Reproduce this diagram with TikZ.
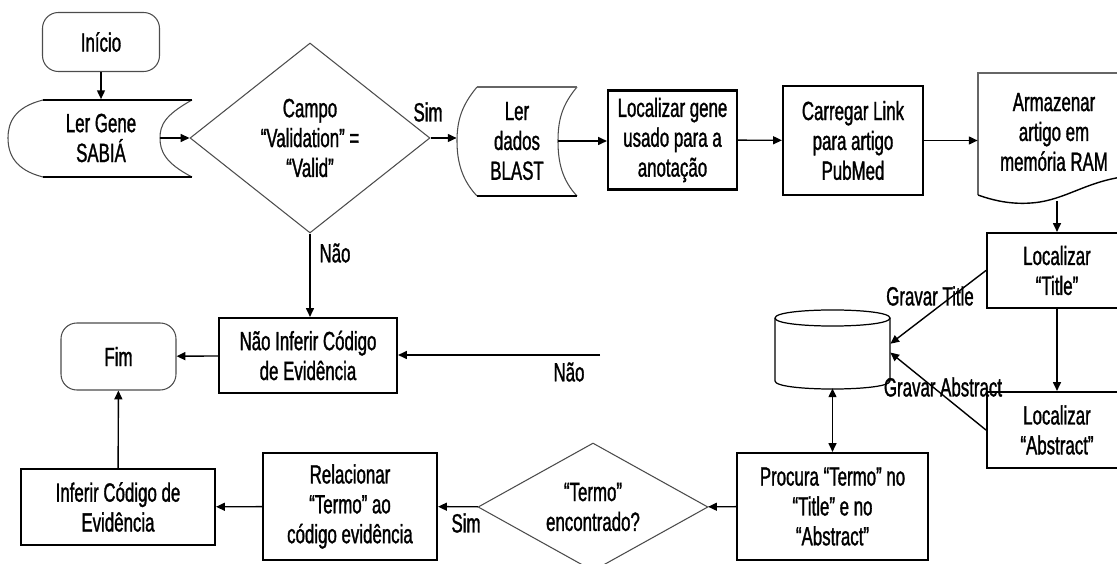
\documentclass[tikz,border=0pt]{standalone}
\usepackage{fontspec}
\setmainfont{Liberation Sans}[FakeStretch=0.64, FakeBold=1.2]
\usetikzlibrary{shapes.geometric,arrows.meta}
\tikzset{
  proc/.style={draw, line width=1.2pt, align=center, inner sep=1pt},
  decis/.style={draw=black!70, line width=0.6pt, diamond, align=center, inner sep=0pt},
  term/.style={draw=black!70, line width=0.6pt, rounded corners=9pt, align=center},
  shp/.style={align=center, inner sep=0pt},
  seta/.style={line width=0.8pt, -{Triangle[length=5pt,width=4.5pt]}},
  lbl/.style={inner sep=1pt}
}

\begin{document}
\begin{tikzpicture}[x=0.02cm, y=-0.02cm, font=\fontsize{15}{17}\selectfont]
\useasboundingbox (0,0) rectangle (1117,564);

\node[term, minimum width=2.34cm, minimum height=1.18cm] (inicio) at (101,42) {Início};

\draw[line width=0.6pt, draw=black!70] (192,100) .. controls (165,115) and (160,125) .. (160,138) .. controls (160,151) and (165,163) .. (192,177);
\draw[line width=0.6pt, draw=black!70] (43,177) .. controls (15,170) and (8,154) .. (8,138) .. controls (8,122) and (15,107) .. (43,100);
\draw[line width=1.2pt] (43,100) -- (192,100);
\draw[line width=1pt] (43,177) -- (192,177);
\node[shp, minimum width=3.68cm, minimum height=1.54cm] (lergene) at (101,138) {Ler Gene\\SABIÁ};
\coordinate (lergene-r) at (160,138);

\node[decis, aspect=1.26, minimum width=4.8cm, minimum height=3.8cm] (valid) at (310,138) {Campo\\“Validation” =\\“Valid”};

\draw[line width=0.6pt, draw=black!70] (577,87) .. controls (562,105) and (558,120) .. (558,141) .. controls (558,162) and (562,180) .. (577,196);
\draw[line width=0.6pt, draw=black!70] (477,196) .. controls (462,180) and (457,162) .. (457,141) .. controls (457,120) and (462,105) .. (477,87);
\draw[line width=1.2pt, draw=black!60] (477,87) -- (577,87);
\draw[line width=1pt] (477,196) -- (577,196);
\node[shp, minimum width=2.4cm, minimum height=2.18cm] (dados) at (517,141) {Ler\\dados\\BLAST};
\coordinate (dados-r) at (558,141);

\node[proc, minimum width=2.58cm, minimum height=1.98cm] (loc) at (672.5,140) {Localizar gene\\usado para a\\anotação};
\node[proc, minimum width=2.8cm, minimum height=2.18cm] (carr) at (853,140.5) {Carregar Link\\para artigo\\PubMed};

\draw[line width=1.2pt, draw=black!60] (978,195) -- (978,73) -- (1130,73);
\draw[line width=0.8pt] (978,195) .. controls (1000,203) and (1020,205) .. (1040,202) .. controls (1070,197) and (1090,180) .. (1130,176);
\node[shp, minimum width=3.04cm, minimum height=2.4cm] (arm) at (1054,132) {Armazenar\\artigo em\\memória RAM};
\coordinate (arm-b) at (1057,201);

\node[proc, minimum width=2.8cm, minimum height=1.5cm] (tit) at (1057,270.5) {Localizar\\“Title”};
\node[proc, minimum width=2.8cm, minimum height=1.52cm] (abs) at (1057,430) {Localizar\\“Abstract”};

\draw[line width=0.7pt] (775,318) -- (775,381) .. controls (775,391.7) and (890,391.7) .. (890,381) -- (890,318);
\draw[line width=0.7pt] (775,318) .. controls (775,307.3) and (890,307.3) .. (890,318) .. controls (890,328.7) and (775,328.7) .. (775,318);
\node[shp, minimum width=2.3cm, minimum height=1.56cm] (db) at (832.5,349) {};

\node[proc, minimum width=3.82cm, minimum height=2.14cm] (procura) at (832.5,506.5) {Procura “Termo” no\\“Title” e no\\“Abstract”};
\node[decis, aspect=1.8, minimum width=4.6cm, minimum height=2.56cm] (ter) at (593,507) {“Termo”\\encontrado?};
\node[proc, minimum width=3.48cm, minimum height=2.14cm] (rel) at (350,506.5) {Relacionar\\“Termo” ao\\código evidência};
\node[proc, minimum width=3.88cm, minimum height=1.52cm] (inf) at (118,507) {Inferir Código de\\Evidência};
\node[term, minimum width=2.3cm, minimum height=1.34cm] (fim) at (118.5,356.5) {Fim};
\node[proc, minimum width=3.56cm, minimum height=1.5cm] (nao) at (308,355.5) {Não Inferir Código\\de Evidência};
\coordinate (ter-n) at (600,355);

\draw[seta] (inicio) -- (lergene);
\draw[seta] (lergene-r) -- (lergene-r -| valid.west);
\draw[seta] (valid.east) -- (valid.east -| dados.west);
\draw[seta] (dados-r) -- (dados-r -| loc.west);
\draw[seta] (loc) -- (carr);
\draw[seta] (carr.east) -- (carr.east -| arm.west);
\draw[seta] (arm-b) -- (arm-b |- tit.north);
\draw[seta] (tit) -- (abs);
\draw[seta] (tit.west) -- ([yshift=3pt]db.east);
\draw[seta] (abs.west) -- ([yshift=-2pt]db.east);
\draw[line width=0.8pt, {Triangle[length=5pt,width=4.5pt]}-{Triangle[length=5pt,width=4.5pt]}] (db) -- (procura);
\draw[seta] (procura) -- (ter);
\draw[seta] (ter) -- (rel);
\draw[seta] (rel) -- (inf);
\draw[seta] (inf) -- (fim);
\draw[seta] (nao) -- (fim);
\draw[seta] (valid.south) -- (valid.south |- nao.north);
\draw[seta] (ter-n) -- (ter-n -| nao.east);

\node[lbl] (sim1) at (428,112) {Sim};
\node[lbl] (nao1) at (335,253) {Não};
\node[lbl] (nao2) at (569,372) {Não};
\node[lbl] (sim2) at (466,523) {Sim};
\node[lbl] (gtit) at (930,296) {Gravar Title};
\node[lbl] (gabs) at (943,387) {Gravar Abstract};
\end{tikzpicture}
\end{document}
